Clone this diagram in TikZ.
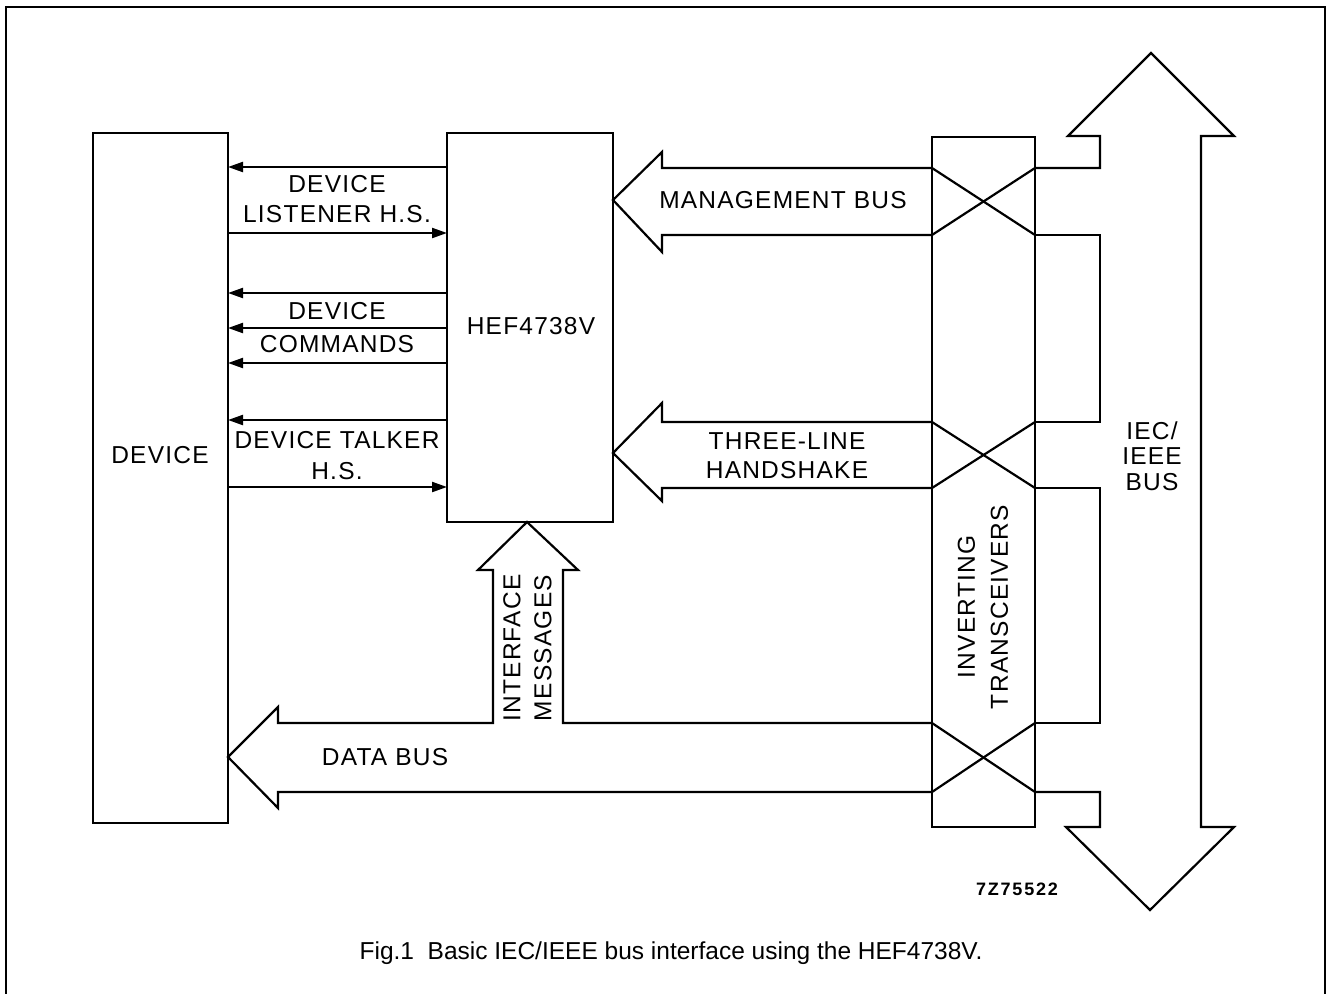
\documentclass[tikz,border=0pt]{standalone}
\usepackage{fontspec}
\setmainfont{Liberation Sans}
\newfontfamily\lblfont[LetterSpace=5]{Liberation Sans}
\newfontfamily\codefont[LetterSpace=10]{Liberation Sans}
\usetikzlibrary{arrows.meta}
\begin{document}
\begin{tikzpicture}[x=1pt,y=-1pt,line width=2.2pt,line join=miter,
  lbl/.style={font=\lblfont\fontsize{24.5}{30}\selectfont,align=center,inner sep=0pt},
  box/.style={draw,line width=2.2pt,inner sep=0pt,outer sep=0pt,anchor=north west},
  sig/.style={-{Triangle[length=15pt,width=10pt]},line width=2.2pt},
  fat/.style={draw,line width=2.2pt,line join=miter}]
\useasboundingbox (0,0) rectangle (1327,993);
% frame
\draw[line width=2pt] (6,1010) -- (6,7) -- (1325,7) -- (1325,1010);
% boxes
\node[box,minimum width=135pt,minimum height=690pt] (dev) at (93,133) {};
\node[box,minimum width=166pt,minimum height=389pt] (hef) at (447,133) {};
\node[box,minimum width=103pt,minimum height=690pt] (xcv) at (932,137) {};
\node[lbl] (devlbl) at (160,455) {DEVICE};
\node[lbl] (heflbl) at (531,326) {HEF4738V};
% thin handshake/command signals
\draw[sig] (hef.west |- 0,167) -- (dev.east |- 0,167);
\draw[sig] (dev.east |- 0,233) -- (hef.west |- 0,233);
\draw[sig] (hef.west |- 0,293) -- (dev.east |- 0,293);
\draw[sig] (hef.west |- 0,328) -- (dev.east |- 0,328);
\draw[sig] (hef.west |- 0,363) -- (dev.east |- 0,363);
\draw[sig] (hef.west |- 0,420) -- (dev.east |- 0,420);
\draw[sig] (dev.east |- 0,487) -- (hef.west |- 0,487);
\node[lbl] (lst) at (337,199) {DEVICE\\LISTENER H.S.};
\node[lbl,font=\lblfont\fontsize{24.5}{33}\selectfont] (cmd) at (337,327.5) {DEVICE\\COMMANDS};
\node[lbl,font=\lblfont\fontsize{24.5}{31}\selectfont] (tlk) at (337,455.5) {DEVICE TALKER\\H.S.};
% management bus
\draw[fat] (xcv.west |- 0,168) -- (662,168) -- (662,152) -- (hef.east |- 0,200)
  -- (662,252) -- (662,235) -- (xcv.west |- 0,235);
\node[lbl] (mgt) at (783,200) {MANAGEMENT BUS};
% three-line handshake
\draw[fat] (xcv.west |- 0,422) -- (662,422) -- (662,403) -- (hef.east |- 0,453)
  -- (662,501) -- (662,488) -- (xcv.west |- 0,488);
\node[lbl,font=\lblfont\fontsize{24.5}{29}\selectfont] (tlh) at (787,455.5) {THREE-LINE\\HANDSHAKE};
% interface messages + data bus
\draw[fat] (xcv.west |- 0,723) -- (563,723) -- (563,570) -- (578,570) -- (hef.south -| 527,0)
  -- (478,570) -- (493,570) -- (493,723) -- (278,723) -- (278,707) -- (dev.east |- 0,757)
  -- (278,808) -- (278,792) -- (xcv.west |- 0,792);
\node[lbl,rotate=90,font=\lblfont\fontsize{24.5}{31}\selectfont] (ifm) at (527.5,648) {INTERFACE\\MESSAGES};
\node[lbl] (dbus) at (385,757) {DATA BUS};
% transceiver crosses
\draw (xcv.west |- 0,168) -- (xcv.east |- 0,235);
\draw (xcv.west |- 0,235) -- (xcv.east |- 0,168);
\draw (xcv.west |- 0,422) -- (xcv.east |- 0,488);
\draw (xcv.west |- 0,488) -- (xcv.east |- 0,422);
\draw (xcv.west |- 0,723) -- (xcv.east |- 0,792);
\draw (xcv.west |- 0,792) -- (xcv.east |- 0,723);
\node[lbl,rotate=90,font=\lblfont\fontsize{24.5}{33}\selectfont] (xlbl) at (983,607) {INVERTING\\TRANSCEIVERS};
% IEC/IEEE bus double arrow
\draw[fat] (xcv.east |- 0,168) -- (1100,168) -- (1100,136) -- (1068,136) -- (1151,53)
  -- (1234,136) -- (1201,136) -- (1201,827) -- (1234,827) -- (1150,910) -- (1066,827)
  -- (1100,827) -- (1100,792) -- (xcv.east |- 0,792);
\draw[fat] (xcv.east |- 0,235) -- (1100,235) -- (1100,422) -- (xcv.east |- 0,422);
\draw[fat] (xcv.east |- 0,488) -- (1100,488) -- (1100,723) -- (xcv.east |- 0,723);
\node[lbl,font=\lblfont\fontsize{24.5}{25.5}\selectfont] (bus) at (1152,456) {IEC/\\IEEE\\BUS};
% code and caption
\node[inner sep=0pt,font=\codefont\bfseries\fontsize{18}{20}\selectfont] (code) at (1017,889) {7Z75522};
\node[inner sep=0pt,font=\fontsize{24.5}{28}\selectfont] (cap) at (671,953) {Fig.1\ \ Basic IEC/IEEE bus interface using the HEF4738V.};
\end{tikzpicture}
\end{document}
